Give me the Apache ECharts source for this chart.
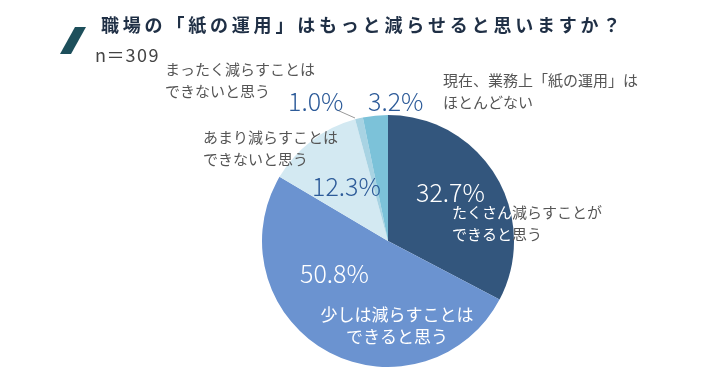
<!DOCTYPE html>
<html><head><meta charset="utf-8">
<script src="https://cdn.jsdelivr.net/npm/echarts@6/dist/echarts.min.js"></script>
<style>html,body{margin:0;padding:0;background:#fff}#c{width:720px;height:382px}</style>
</head><body><div id="c"></div>
<script>
const categories = ['たくさん減らすことができると思う','少しは減らすことはできると思う','あまり減らすことはできないと思う','まったく減らすことはできないと思う','現在、業務上「紙の運用」はほとんどない'];
const values = [32.7, 50.8, 12.3, 1.0, 3.2];
const colors = ['#33567d','#6b93d0','#d3e9f2','#a8d3e3','#7cc2d9'];
const title = '職場の「紙の運用」はもっと減らせると思いますか？';
const sample = 'n＝309';

const F = '"Noto Sans CJK JP", "Noto Sans", sans-serif';
const pct = v => v.toFixed(1) + '%';
const chart = echarts.init(document.getElementById('c'), null, {renderer:'canvas'});
const catStyle = {fill:'#555', fontSize:15, fontFamily:F, lineHeight:22, verticalAlign:'middle'};
const pctStyle = (c) => ({fill:c, fontSize:25, fontFamily:F, fontWeight:300, verticalAlign:'middle'});
const G = [];
G.push({type:'polygon', shape:{points:[[75,27],[86,27],[71,54],[60,54]]}, style:{fill:'#1d4f5b'}});
// title with letter spacing
Array.from(title).forEach((ch,i)=>{
  G.push({type:'text', x:101 + i*21.8, y:25, style:{text:ch, fill:'#1f2f45', fontSize:18, fontWeight:'bold', fontFamily:F, verticalAlign:'middle'}});
});
Array.from(sample).forEach((ch,i)=>{
  const adv = [11.5,19,11.5,11.5,11.5];
  let x = 95; for (let k=0;k<i;k++) x += adv[k];
  G.push({type:'text', x:x, y:55, style:{text:ch, fill:'#444', fontSize:18, fontFamily:F, verticalAlign:'middle'}});
});
G.push(
  {type:'polyline', shape:{points:[[337,110],[355,118]]}, style:{stroke:'#999', lineWidth:1}},
  {type:'text', x:165, y:80, style:Object.assign({text:'まったく減らすことは\nできないと思う'}, catStyle)},
  {type:'text', x:288, y:101, style:Object.assign({text:pct(values[3])}, pctStyle('#2d5b99'))},
  {type:'text', x:368, y:101, style:Object.assign({text:pct(values[4])}, pctStyle('#2d5b99'))},
  {type:'text', x:443, y:91, style:Object.assign({text:'現在、業務上「紙の運用」は\nほとんどない'}, catStyle)},
  {type:'text', x:203, y:148, style:Object.assign({text:'あまり減らすことは\nできないと思う'}, catStyle)},
  {type:'text', x:312, y:186, style:Object.assign({text:pct(values[2])}, pctStyle('#2d5b99'))},
  {type:'text', x:416, y:192, style:Object.assign({text:pct(values[0])}, pctStyle('#ffffff'))},
  {type:'text', x:452, y:223, style:{text:'{w|たくさん}{g|減らすことが}\n{w|できると}{g|思う}', fontSize:15, fontFamily:F, lineHeight:22, verticalAlign:'middle',
    rich:{w:{fill:'#ffffff', fontSize:15, fontFamily:F, lineHeight:22}, g:{fill:'#555', fontSize:15, fontFamily:F, lineHeight:22}}}},
  {type:'text', x:300, y:273, style:Object.assign({text:pct(values[1])}, pctStyle('#ffffff'))},
  {type:'text', x:397, y:326, style:{text:'少しは減らすことは\nできると思う', fill:'#fff', fontSize:17, fontFamily:F, lineHeight:22, align:'center', verticalAlign:'middle'}}
);
G.forEach(g=>{ g.z = 100; });
chart.setOption({
  animation:false,
  series:[{
    type:'pie', center:[388,241], radius:126, startAngle:90, clockwise:true,
    label:{show:false}, labelLine:{show:false},
    itemStyle:{borderWidth:0},
    data: categories.map((n,i)=>({name:n, value:values[i], itemStyle:{color:colors[i]}}))
  }],
  graphic:G
});
</script></body></html>
